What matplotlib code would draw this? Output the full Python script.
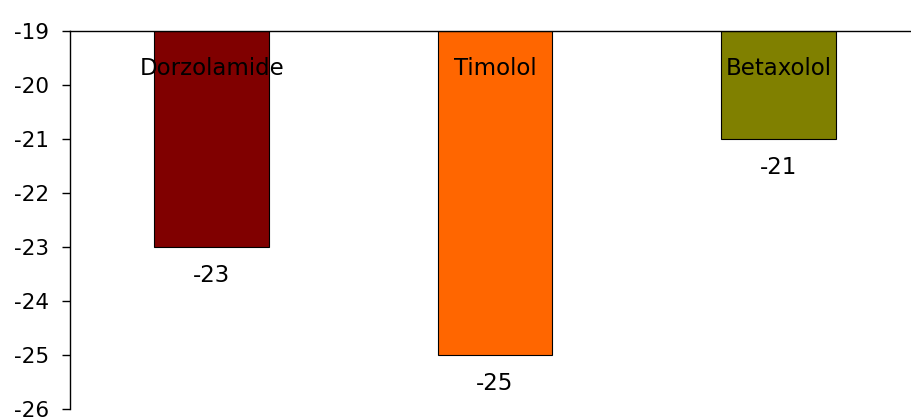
import matplotlib

matplotlib.use("Agg")
import matplotlib.pyplot as plt

drugs = ["Dorzolamide", "Timolol", "Betaxolol"]
change = [-23, -25, -21]
bar_colors = ["#800000", "#FF6600", "#808000"]
y_ticks = [-19, -20, -21, -22, -23, -24, -25, -26]

baseline = -19

plt.rcParams["font.family"] = ["DejaVu Sans"]

fig = plt.figure(figsize=(9.11, 4.17), dpi=100)
ax = fig.add_axes([70 / 911, 1 - 409 / 417, 850 / 911, 378 / 417])

x = list(range(len(drugs)))
ax.bar(
    x,
    [v - baseline for v in change],
    bottom=baseline,
    width=0.405,
    color=bar_colors,
    edgecolor="black",
    linewidth=0.8,
)

for xi, name, v in zip(x, drugs, change):
    ax.text(xi, baseline - 0.69, name, ha="center", va="center", fontsize=16.5, color="black")
    ax.annotate(
        str(v),
        (xi, v),
        xytext=(0, -28),
        textcoords="offset pixels",
        ha="center",
        va="center",
        fontsize=16.5,
    )

ax.set_xlim(-0.5, 2.5)
ax.set_ylim(-26, -19)
ax.set_yticks(y_ticks)
ax.set_yticklabels([str(t) for t in y_ticks], fontsize=15.5)
ax.set_xticks([])
ax.tick_params(axis="y", direction="out", length=6, width=1, pad=9)
ax.spines["right"].set_visible(False)
ax.spines["bottom"].set_visible(False)
for s in ("left", "top"):
    ax.spines[s].set_linewidth(1)

fig.savefig("out.png", dpi=100)
